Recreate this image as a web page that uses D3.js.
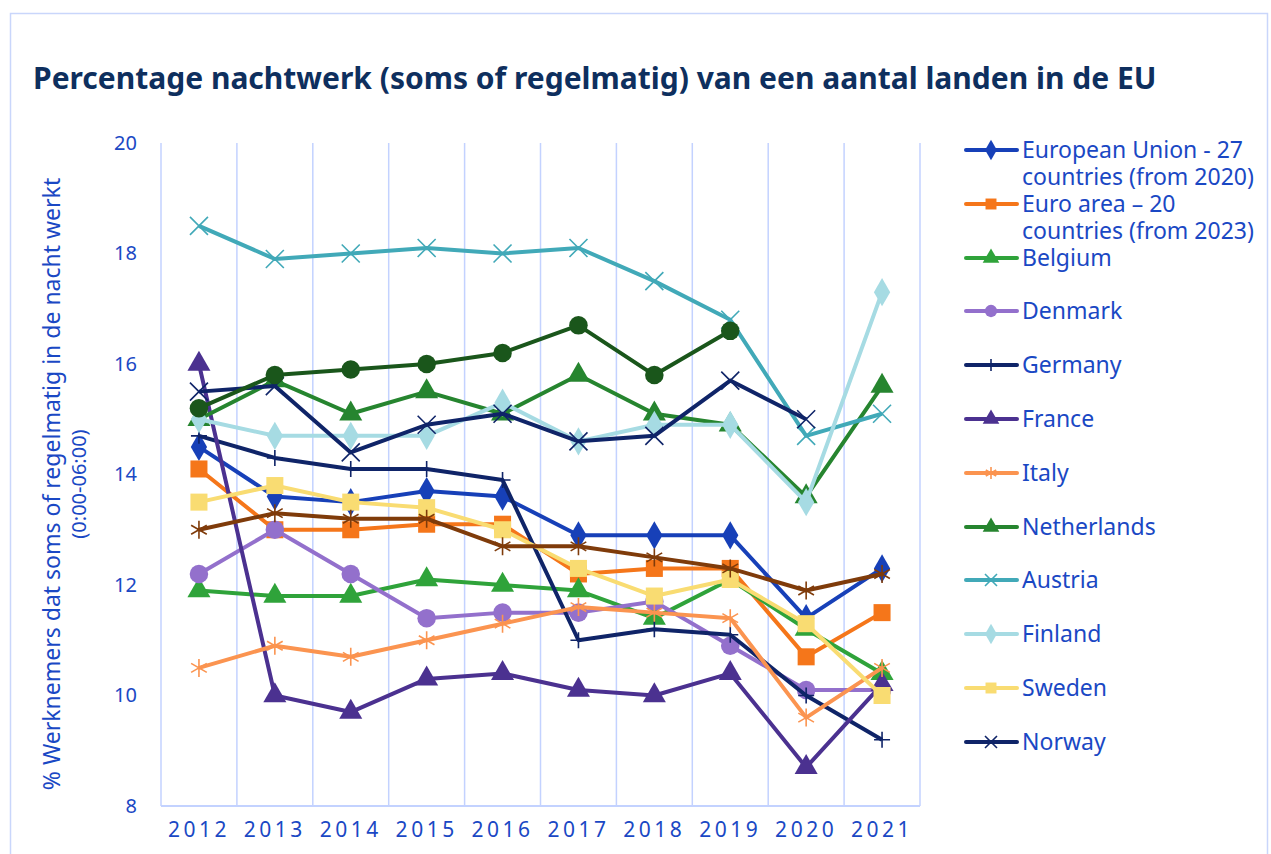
<!DOCTYPE html>
<html>
<head>
<meta charset="utf-8">
<script src="https://cdn.jsdelivr.net/npm/d3@7"></script>
<style>
  body { margin: 0; background: #fff; }
  svg { display: block; font-family: "Noto Sans", sans-serif; }
</style>
</head>
<body>
<svg id="chart"></svg>
<script>
// data
var years = ["2012", "2013", "2014", "2015", "2016", "2017", "2018", "2019", "2020", "2021"];
var yTicks = [8, 10, 12, 14, 16, 18, 20];

var eu27      = [14.5, 13.6, 13.5, 13.7, 13.6, 12.9, 12.9, 12.9, 11.4, 12.3];
var euroArea  = [14.1, 13.0, 13.0, 13.1, 13.1, 12.2, 12.3, 12.3, 10.7, 11.5];
var belgium   = [11.9, 11.8, 11.8, 12.1, 12.0, 11.9, 11.4, 12.1, 11.2, 10.4];
var denmark   = [12.2, 13.0, 12.2, 11.4, 11.5, 11.5, 11.7, 10.9, 10.1, 10.1];
var germany   = [14.7, 14.3, 14.1, 14.1, 13.9, 11.0, 11.2, 11.1, 10.0, 9.2];
var france    = [16.0, 10.0, 9.7, 10.3, 10.4, 10.1, 10.0, 10.4, 8.7, 10.2];
var italy     = [10.5, 10.9, 10.7, 11.0, 11.3, 11.6, 11.5, 11.4, 9.6, 10.5];
var netherl   = [15.0, 15.7, 15.1, 15.5, 15.1, 15.8, 15.1, 14.9, 13.6, 15.6];
var austria   = [18.5, 17.9, 18.0, 18.1, 18.0, 18.1, 17.5, 16.8, 14.7, 15.1];
var finland   = [15.0, 14.7, 14.7, 14.7, 15.3, 14.6, 14.9, 14.9, 13.5, 17.3];
var sweden    = [13.5, 13.8, 13.5, 13.4, 13.0, 12.3, 11.8, 12.1, 11.3, 10.0];
var norway    = [15.5, 15.6, 14.4, 14.9, 15.1, 14.6, 14.7, 15.7, 15.0, null];
// two series drawn in the plot but cut off from the legend
var extraA    = [15.2, 15.8, 15.9, 16.0, 16.2, 16.7, 15.8, 16.6, null, null];
var extraB    = [13.0, 13.3, 13.2, 13.2, 12.7, 12.7, 12.5, 12.3, 11.9, 12.2];

var series = [
  {name: ["European Union - 27", "countries (from 2020)"], values: eu27, color: "#1740b8", mark: "diamond"},
  {name: ["Euro area \u2013 20", "countries (from 2023)"], values: euroArea, color: "#f5761a", mark: "square"},
  {name: ["Belgium"], values: belgium, color: "#2fa33a", mark: "triangle"},
  {name: ["Denmark"], values: denmark, color: "#9370cc", mark: "circle"},
  {name: ["Germany"], values: germany, color: "#0f2468", mark: "plus"},
  {name: ["France"], values: france, color: "#4b3190", mark: "triangle"},
  {name: ["Italy"], values: italy, color: "#fb9450", mark: "star"},
  {name: ["Netherlands"], values: netherl, color: "#26852f", mark: "triangle"},
  {name: ["Austria"], values: austria, color: "#41a9b8", mark: "cross"},
  {name: ["Finland"], values: finland, color: "#a6dbe3", mark: "diamond"},
  {name: ["Sweden"], values: sweden, color: "#f9dc72", mark: "square"},
  {name: ["Norway"], values: norway, color: "#0f2468", mark: "cross"},
  {name: null, values: extraA, color: "#1a561b", mark: "circle"},
  {name: null, values: extraB, color: "#7f3b0a", mark: "star"}
];

var width = 1271, height = 854;
var svg = d3.select("#chart").attr("width", width).attr("height", height);
var margin = {left: 161, right: 920, top: 143, bottom: 806};
var textBlue = "#1a48c4";
var gridBlue = "#c3d2ff";

// frame
svg.append("rect")
  .attr("x", 10.5).attr("y", 13.5)
  .attr("width", 1257).attr("height", 860)
  .attr("fill", "none").attr("stroke", "#c9d6fb").attr("stroke-width", 1.5);

svg.append("text")
  .attr("x", 33).attr("y", 89)
  .attr("fill", "#0e2f5e")
  .attr("font-size", 30).attr("font-weight", "bold")
  .text("Percentage nachtwerk (soms of regelmatig) van een aantal landen in de EU");

var x = d3.scaleBand().domain(years).range([margin.left, margin.right]);
var y = d3.scaleLinear().domain([8, 20]).range([margin.bottom, margin.top]);

// vertical grid at category borders
var borders = years.map(function (d) { return x(d); }).concat([margin.right]);
svg.append("g").selectAll("line")
  .data(borders)
  .enter().append("line")
  .attr("x1", function (d) { return d; }).attr("x2", function (d) { return d; })
  .attr("y1", margin.top).attr("y2", margin.bottom)
  .attr("stroke", gridBlue).attr("stroke-width", 1.5);

svg.append("line")
  .attr("x1", margin.left).attr("x2", margin.right)
  .attr("y1", margin.bottom).attr("y2", margin.bottom)
  .attr("stroke", gridBlue).attr("stroke-width", 2);

// y axis labels
var yAxis = svg.append("g")
  .attr("transform", "translate(" + (margin.left - 24) + ",0)")
  .call(d3.axisLeft(y).tickValues(yTicks).tickSize(0).tickPadding(0));
yAxis.select(".domain").remove();
yAxis.selectAll("text").attr("fill", textBlue).attr("font-size", 20)
  .attr("font-family", "Noto Sans");

// x axis labels
var xAxis = svg.append("g")
  .attr("transform", "translate(0," + margin.bottom + ")")
  .call(d3.axisBottom(x).tickSize(0).tickPadding(16));
xAxis.select(".domain").remove();
xAxis.selectAll("text").attr("fill", textBlue).attr("font-size", 21)
  .attr("font-family", "Noto Sans").attr("letter-spacing", 3.5);

// y title
var yt = svg.append("text")
  .attr("transform", "translate(60,484) rotate(-90)")
  .attr("text-anchor", "middle")
  .attr("fill", textBlue);
yt.append("tspan").attr("x", 0).attr("dy", 0).attr("font-size", 23)
  .text("% Werknemers dat soms of regelmatig in de nacht werkt");
yt.append("tspan").attr("x", 0).attr("dy", 26).attr("font-size", 20).text("(0:00-06:00)");

function markPath(type, s) {
  if (type === "plus") return "M" + (-s) + ",0H" + s + "M0," + (-s) + "V" + s;
  if (type === "cross") return "M" + (-s) + "," + (-s) + "L" + s + "," + s + "M" + (-s) + "," + s + "L" + s + "," + (-s);
  if (type === "star") {
    var a = s * 0.87, b = s * 0.5;
    return "M0," + (-s) + "V" + s + "M" + (-a) + "," + (-b) + "L" + a + "," + b + "M" + (-a) + "," + b + "L" + a + "," + (-b);
  }
  var sym = {diamond: d3.symbolDiamond, square: d3.symbolSquare, triangle: d3.symbolTriangle, circle: d3.symbolCircle}[type];
  var size = {diamond: 230, square: 290, triangle: 230, circle: 270}[type];
  return d3.symbol().type(sym).size(size)();
}
function isStroked(type) {
  return type === "plus" || type === "cross" || type === "star";
}

var line = d3.line()
  .defined(function (d) { return d != null; })
  .x(function (d, i) { return x(years[i]) + x.bandwidth() / 2; })
  .y(function (d) { return y(d); });

var plot = svg.append("g");
series.forEach(function (s) {
  var g = plot.append("g");
  g.append("path")
    .datum(s.values)
    .attr("d", line)
    .attr("fill", "none")
    .attr("stroke", s.color)
    .attr("stroke-width", 4)
    .attr("stroke-linejoin", "round");
  var pts = s.values.map(function (v, i) { return {v: v, i: i}; })
    .filter(function (d) { return d.v != null; });
  g.selectAll("path.mk")
    .data(pts)
    .enter().append("path")
    .attr("class", "mk")
    .attr("transform", function (d) {
      return "translate(" + (x(years[d.i]) + x.bandwidth() / 2) + "," + y(d.v) + ")";
    })
    .attr("d", markPath(s.mark, s.mark === "plus" ? 8 : 9))
    .attr("fill", isStroked(s.mark) ? "none" : s.color)
    .attr("stroke", s.color)
    .attr("stroke-width", isStroked(s.mark) ? 1.6 : 0);
});

// legend
var legendRows = [150, 204, 258, 311, 365, 419, 473, 527, 580, 634, 688, 742];
var legend = svg.append("g");
series.filter(function (s) { return s.name; }).forEach(function (s, k) {
  var ly = legendRows[k];
  var g = legend.append("g").attr("transform", "translate(0," + ly + ")");
  g.append("line")
    .attr("x1", 966).attr("x2", 1017)
    .attr("stroke", s.color).attr("stroke-width", 4).attr("stroke-linecap", "round");
  g.append("path")
    .attr("transform", "translate(991,0)")
    .attr("d", isStroked(s.mark)
      ? markPath(s.mark, 6)
      : d3.symbol().type({diamond: d3.symbolDiamond, square: d3.symbolSquare, triangle: d3.symbolTriangle, circle: d3.symbolCircle}[s.mark]).size(120)())
    .attr("fill", isStroked(s.mark) ? "none" : s.color)
    .attr("stroke", s.color)
    .attr("stroke-width", isStroked(s.mark) ? 1.6 : 0);
  var t = g.append("text")
    .attr("x", 1022).attr("y", 8)
    .attr("fill", textBlue).attr("font-size", 23);
  s.name.forEach(function (ln, j) {
    t.append("tspan").attr("x", 1022).attr("dy", j === 0 ? 0 : 27).text(ln);
  });
});
</script>
</body>
</html>
